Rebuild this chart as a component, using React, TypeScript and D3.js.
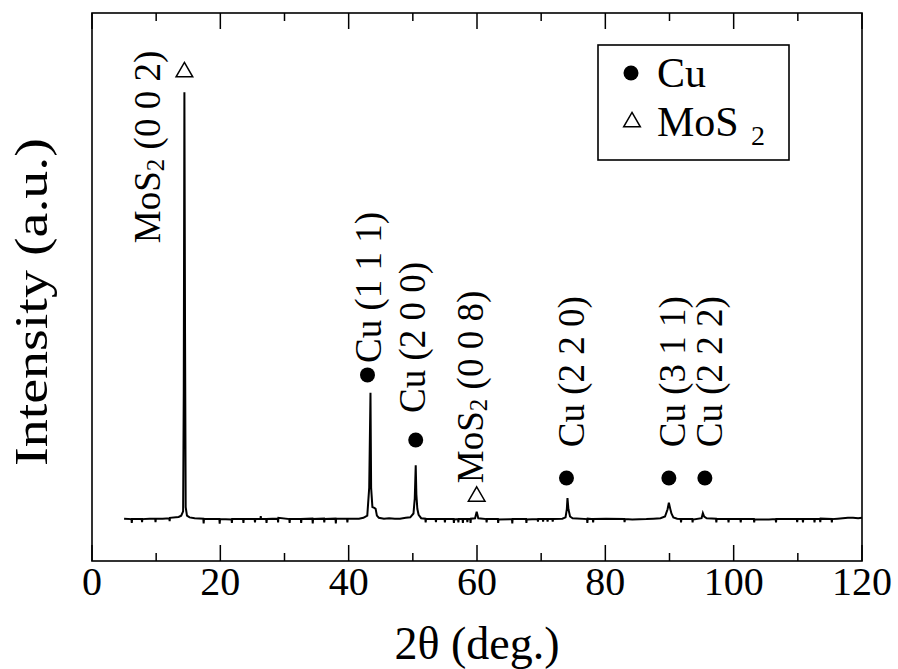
import React from "react";
import * as d3 from "d3";

// XRD pattern: [2θ (deg), intensity (a.u., baseline 0, strongest peak 100)]
const pattern: [number, number][] = [
  [5.0,0.3],[6.15,0.2],[6.2,-0.7],[6.25,0.2],[7.75,0.2],[7.8,-0.5],[7.85,0.2],[9.0,0.3],[9.85,0.3],[9.9,-0.5],[9.95,0.3],
  [11.0,0.3],[12.05,0.4],[12.1,-0.3],[12.15,0.5],[13.5,0.7],[13.9,1.0],[14.2,2.0],[14.3,30],[14.4,100],
  [14.5,43.7],[14.6,3.0],[14.8,1.0],[15.2,0.6],[16.0,0.4],[17.35,0.3],[17.4,-0.8],[17.45,0.2],[19.85,0.2],
  [19.9,-0.9],[19.95,0.2],[21.75,0.1],[21.8,-0.7],[21.85,0.2],[23.55,0.2],[23.6,-0.7],[23.65,0.2],[25.35,0.2],[25.4,-0.6],
  [25.45,0.2],[26.25,0.2],[26.3,0.9],[26.35,0.2],[27.15,0.2],[27.2,-0.7],[27.25,0.2],[28.95,0.3],[29.0,-0.6],[29.05,0.5],
  [30.75,0.2],[30.8,-0.7],[30.85,0.2],[32.55,0.2],[32.6,-0.7],[32.65,0.2],[34.35,0.3],[34.4,-0.8],[34.45,0.2],
  [36.15,0.3],[36.2,-0.6],[36.25,0.2],[37.95,0.3],[38.0,-0.8],[38.05,0.3],[39.75,0.3],[39.8,-0.6],[39.85,0.3],
  [41.6,0.3],[42.3,0.5],[42.9,1.0],
  [43.2,7.5],[43.4,29.7],[43.5,7.5],[43.7,3.0],[44.0,2.8],[44.2,2.6],[44.4,1.0],[44.7,0.5],[45.5,0.3],[46.3,0.4],
  [47.2,0.3],[48.0,0.3],[48.9,0.5],[49.6,0.6],[50.1,1.5],[50.3,5],[50.45,12.8],[50.55,6],[50.7,2.6],[50.9,1.2],
  [51.3,0.4],[51.95,0.3],[52.0,-0.6],[52.05,0.2],[53.55,0.2],[53.6,-0.5],[53.65,0.2],[54.95,0.2],[55.0,-0.6],[55.05,0.2],
  [56.35,0.2],[56.4,-0.7],[56.45,0.1],[57.05,0.2],[57.1,-0.6],[57.15,0.2],[57.75,0.2],[57.8,-0.7],[57.85,0.2],
  [58.45,0.2],[58.5,-0.5],[58.55,0.2],[58.95,0.2],[59.0,-0.7],[59.05,0.3],[59.7,0.4],
  [59.95,1.9],[60.2,0.4],[61.45,0.2],[61.5,-0.6],[61.55,0.2],[63.25,0.2],[63.3,-0.7],[63.35,0.1],[65.45,0.2],[65.5,-0.8],
  [65.55,0.2],[67.65,0.2],[67.7,-0.7],[67.75,0.1],[69.45,0.2],[69.5,-0.4],[69.55,0.2],[70.25,0.2],[70.3,-0.4],[70.35,0.2],
  [70.95,0.2],[71.0,-0.4],[71.05,0.2],[71.75,0.2],[71.8,-0.4],[71.85,0.2],[73.3,0.3],[73.8,0.6],[74.0,2.5],[74.1,5.1],
  [74.25,2.5],[74.5,0.8],[74.9,0.4],[77.15,0.2],[77.2,-0.7],[77.25,0.3],[78.05,0.2],[78.1,-0.6],[78.15,0.2],
  [80.1,0.3],[82.95,0.2],[83.0,-0.5],[83.05,0.2],[84.2,0.1],[86.4,0.2],[87.5,0.3],[88.6,0.4],[89.3,0.8],[89.7,2.5],[89.9,4.0],
  [90.1,2.7],[90.3,1.5],[90.6,0.6],[91.2,0.3],[91.75,0.2],[91.8,-0.6],[91.85,0.2],[93.55,0.2],[93.6,-0.6],[93.65,0.1],
  [95.0,0.4],[95.2,1.6],[95.4,0.8],[95.8,0.4],[97.25,0.3],[97.3,-0.6],[97.35,0.2],[99.15,0.2],[99.2,-0.6],[99.25,0.2],
  [101.05,0.2],[101.1,-0.6],[101.15,0.2],[103.15,0.2],[103.2,-0.6],[103.25,0.1],[105.5,0.1],[106.55,0.2],[106.6,-0.6],
  [106.65,0.2],[108.8,0.2],[109.85,0.2],[109.9,-0.5],[109.95,0.2],[110.75,0.2],[110.8,-0.6],[110.85,0.2],[112.55,0.2],
  [112.6,-0.6],[112.65,0.2],[113.45,0.2],[113.5,-0.5],[113.55,0.3],[115.25,0.2],[115.3,-0.6],[115.35,0.2],[116.2,0.3],
  [117.0,0.4],[117.8,0.5],[118.6,0.5],[119.4,0.4],[120,0.5],
];

const xMajorTicks = [0, 20, 40, 60, 80, 100, 120];
const xMinorTicks = [10, 30, 50, 70, 90, 110];

// Peak annotations
const peakPhase = ["MoS2", "Cu", "Cu", "MoS2", "Cu", "Cu", "Cu"];
const peakHkl = ["(0 0 2)", "(1 1 1)", "(2 0 0)", "(0 0 8)", "(2 2 0)", "(3 1 1)", "(2 2 2)"];
const peakTheta = [14.4, 43.4, 50.45, 59.95, 74.1, 89.9, 95.2];
const markerLevel = [104.7, 33.9, 18.7, 5.5, 9.8, 9.8, 9.8];
const labelLevel = [64.7, 36.7, 25.0, 8.6, 17.0, 17.0, 17.0];

const legendNames = ["Cu", "MoS2"];

const W = 898, H = 669;
const M = { left: 92, right: 862, top: 13, bottom: 561 };
const labelDx = [-24, 11, 9, 6, 17, 16, 19];
const markerDx = [0, -3, 0, 0, -1, 0, 2];
const FONT = "'Liberation Serif', 'Times New Roman', serif";

function Formula({ name, sub = 24, dy = 5 }: { name: string; sub?: number; dy?: number }) {
  if (name === "MoS2") {
    return (
      <>
        <tspan>MoS</tspan>
        <tspan fontSize={sub} dy={dy}>2</tspan>
        <tspan dy={-dy}> </tspan>
      </>
    );
  }
  return <tspan>{name} </tspan>;
}

export default function App() {
  const x = d3.scaleLinear().domain([0, 120]).range([M.left, M.right]);
  const y = d3.scaleLinear().domain([-9.6, 118.5]).range([M.bottom, M.top]);
  const line = d3
    .line<[number, number]>()
    .x((d) => x(d[0]))
    .y((d) => y(d[1]));
  const tri = d3.symbol(d3.symbolTriangle, 120)() as string;

  return (
    <svg width={W} height={H} style={{ position: "absolute", left: 0, top: 0, background: "#fff" }} fontFamily={FONT}>
      <rect x={0} y={0} width={W} height={H} fill="#fff" />
      {/* data */}
      <path d={line(pattern) as string} fill="none" stroke="#000" strokeWidth={2} strokeLinejoin="miter" />

      {/* frame */}
      <rect x={M.left} y={M.top} width={M.right - M.left} height={M.bottom - M.top} fill="none" stroke="#000" strokeWidth={1.6} />
      {xMajorTicks.map((t) => (
        <g key={"M" + t}>
          <line x1={x(t)} x2={x(t)} y1={M.bottom} y2={M.bottom - 16} stroke="#000" strokeWidth={1.5} />
          <line x1={x(t)} x2={x(t)} y1={M.top} y2={M.top + 16} stroke="#000" strokeWidth={1.5} />
          <text x={x(t)} y={595} textAnchor="middle" fontSize={40}>{t}</text>
        </g>
      ))}
      {xMinorTicks.map((t) => (
        <g key={"m" + t}>
          <line x1={x(t)} x2={x(t)} y1={M.bottom} y2={M.bottom - 8} stroke="#000" strokeWidth={1.5} />
          <line x1={x(t)} x2={x(t)} y1={M.top} y2={M.top + 8} stroke="#000" strokeWidth={1.5} />
        </g>
      ))}

      {/* axis titles */}
      <text x={(M.left + M.right) / 2} y={659} textAnchor="middle" fontSize={46}>2θ (deg.)</text>
      <text transform={`translate(47,302) rotate(-90)`} textAnchor="middle" fontSize={46}
        textLength={328} lengthAdjust="spacingAndGlyphs">Intensity (a.u.)</text>

      {/* peak markers and labels */}
      {peakTheta.map((t, i) => {
        const px = x(t) + markerDx[i];
        const py = y(markerLevel[i]);
        return (
          <g key={"p" + i}>
            {peakPhase[i] === "Cu" ? (
              <circle cx={px} cy={py} r={7.5} fill="#000" />
            ) : (
              <path d={tri} transform={`translate(${px},${py})`} fill="#fff" stroke="#000" strokeWidth={1.5} />
            )}
            <text transform={`translate(${x(t) + labelDx[i]},${y(labelLevel[i])}) rotate(-90)`} fontSize={37}>
              <Formula name={peakPhase[i]} sub={25} dy={4} />
              <tspan>{peakHkl[i]}</tspan>
            </text>
          </g>
        );
      })}

      {/* legend */}
      <rect x={598} y={45} width={191} height={115} fill="#fff" stroke="#000" strokeWidth={1.6} />
      {legendNames.map((n, i) => (
        <g key={n}>
          {n === "Cu" ? (
            <circle cx={631} cy={73 + i * 49} r={7.5} fill="#000" />
          ) : (
            <path d={tri} transform={`translate(632,${73 + i * 49})`} fill="#fff" stroke="#000" strokeWidth={1.5} />
          )}
          {n === "MoS2" ? (
            <text x={657} y={87 + i * 49} fontSize={42}>
              <tspan>MoS</tspan>
              <tspan x={751} dy={9} fontSize={28}>2</tspan>
            </text>
          ) : (
            <text x={657} y={87 + i * 49} fontSize={42}>{n}</text>
          )}
        </g>
      ))}
    </svg>
  );
}
